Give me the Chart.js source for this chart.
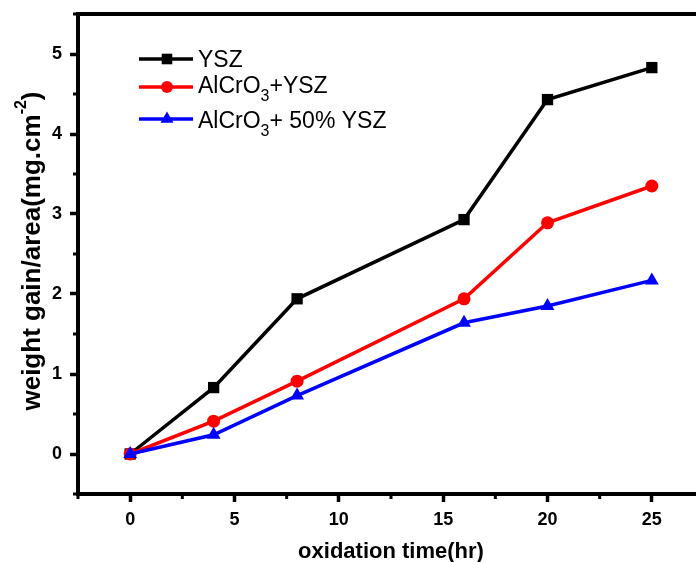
<!DOCTYPE html>
<html><head><meta charset="utf-8">
<script src="https://cdn.jsdelivr.net/npm/chart.js@4/dist/chart.umd.min.js"></script>
<style>html,body{margin:0;padding:0;background:#fff;overflow:hidden}#w{width:712px;height:562px}canvas{display:block}</style>
</head><body>
<div id="w"><canvas id="c" width="712" height="562" style="width:712px;height:562px"></canvas></div>
<script>
const times = [0, 4, 8, 16, 20, 25];
const ysz = [0, 0.83, 1.94, 2.93, 4.43, 4.83];
const alcro3Ysz = [0, 0.41, 0.91, 1.94, 2.89, 3.35];
const alcro3Ysz50 = [0, 0.24, 0.73, 1.64, 1.85, 2.17];
const xTicks = [0, 5, 10, 15, 20, 25];
const yTicks = [0, 1, 2, 3, 4, 5];
const xMinor = [-2.5, 2.5, 7.5, 12.5, 17.5, 22.5, 27.5];
const yMinor = [-0.5, 0.5, 1.5, 2.5, 3.5, 4.5, 5.5];
const legendItems = [
  {main: 'YSZ', sub: '', rest: ''},
  {main: 'AlCrO', sub: '3', rest: '+YSZ'},
  {main: 'AlCrO', sub: '3', rest: '+ 50% YSZ'}
];
const xTitle = 'oxidation time(hr)';
const yTitleMain = 'weight gain/area(mg.cm';
const yTitleSup = '-2';
const yTitleEnd = ')';

const colors = ['#000000', '#ff0000', '#0000ff'];
const styles = ['rect', 'circle', 'triangle'];
const radii = [8, 6.5, 8];
const series = [ysz, alcro3Ysz, alcro3Ysz50];
const FAM = '"Liberation Sans", Arial, sans-serif';

const datasets = series.map((s, i) => ({
  label: legendItems[i].main + legendItems[i].sub + legendItems[i].rest,
  data: times.map((t, k) => ({x: t, y: s[k]})),
  borderColor: colors[i], backgroundColor: colors[i],
  borderWidth: 3.5, pointStyle: styles[i], pointRadius: radii[i],
  pointBorderWidth: 0, tension: 0
})).reverse();

const extras = {
  id: 'extras',
  afterDraw(chart) {
    const ctx = chart.ctx, a = chart.chartArea;
    const xs = chart.scales.x, ys = chart.scales.y;
    ctx.save();
    ctx.strokeStyle = '#000';
    ctx.lineWidth = 4;
    ctx.beginPath();
    ctx.moveTo(a.left - 2, a.top); ctx.lineTo(a.right, a.top);
    ctx.moveTo(a.right, a.top); ctx.lineTo(a.right, a.bottom);
    ctx.stroke();
    ctx.lineWidth = 3;
    ctx.beginPath();
    xMinor.forEach(v => { const p = xs.getPixelForValue(v); ctx.moveTo(p, a.bottom); ctx.lineTo(p, a.bottom + 5); });
    yMinor.forEach(v => { const p = ys.getPixelForValue(v); ctx.moveTo(a.left, p); ctx.lineTo(a.left - 5, p); });
    ctx.stroke();
    // legend
    const lineY = [59, 87, 119];
    const baseY = [67, 93, 128];
    legendItems.forEach((it, i) => {
      const y = lineY[i], c = colors[i];
      ctx.strokeStyle = c; ctx.fillStyle = c; ctx.lineWidth = 3.5;
      ctx.beginPath(); ctx.moveTo(139, y); ctx.lineTo(193, y); ctx.stroke();
      Chart.helpers.drawPoint(ctx, {pointStyle: styles[i], radius: radii[i] - 0.5, borderWidth: 0}, 167, y);
      ctx.fillStyle = '#000';
      ctx.font = '23px ' + FAM;
      ctx.textBaseline = 'alphabetic'; ctx.textAlign = 'left';
      let x = 198; const b = baseY[i];
      ctx.fillText(it.main, x, b); x += ctx.measureText(it.main).width;
      if (it.sub) {
        ctx.font = '16px ' + FAM;
        ctx.fillText(it.sub, x, b + 8); x += ctx.measureText(it.sub).width;
        ctx.font = '23px ' + FAM;
        ctx.fillText(it.rest, x, b);
      }
    });
    // y title
    ctx.save();
    ctx.translate(33, 251);
    ctx.rotate(-Math.PI / 2);
    ctx.fillStyle = '#000';
    ctx.textBaseline = 'middle';
    const f1 = 'bold 26px ' + FAM;
    const f2 = 'bold 16px ' + FAM;
    ctx.font = f1; const w1 = ctx.measureText(yTitleMain).width; const w3 = ctx.measureText(yTitleEnd).width;
    ctx.font = f2; const w2 = ctx.measureText(yTitleSup).width;
    let x = -(w1 + w2 + w3) / 2;
    ctx.textAlign = 'left';
    ctx.font = f1; ctx.fillText(yTitleMain, x, 0); x += w1;
    ctx.font = f2; ctx.fillText(yTitleSup, x, -11); x += w2;
    ctx.font = f1; ctx.fillText(yTitleEnd, x, 0);
    ctx.restore();
    ctx.restore();
  }
};

new Chart(document.getElementById('c'), {
  type: 'line',
  data: {datasets},
  options: {
    responsive: false, animation: false,
    layout: {padding: {top: 14, right: 2, left: 0, bottom: 0}},
    plugins: {legend: {display: false}, tooltip: {enabled: false}},
    scales: {
      x: {
        type: 'linear', min: -2.5, max: 27.5,
        afterBuildTicks: s => { s.ticks = xTicks.map(v => ({value: v})); },
        afterFit: s => { s.height = 68; s.paddingLeft = 0; s.paddingRight = 0; },
        grid: {drawOnChartArea: false, drawTicks: true, tickLength: 8, tickWidth: 3.5, tickColor: '#000', color: '#000'},
        border: {display: true, width: 4, color: '#000'},
        ticks: {color: '#000', padding: 7, font: {family: FAM, size: 18, weight: 'bold'}, maxRotation: 0},
        title: {display: true, text: xTitle, color: '#000', padding: {top: 4, bottom: -3}, font: {family: FAM, size: 22, weight: 'bold'}}
      },
      y: {
        type: 'linear', min: -0.5, max: 5.5,
        afterBuildTicks: s => { s.ticks = yTicks.map(v => ({value: v})); },
        afterFit: s => { s.width = 78; s.paddingTop = 0; s.paddingBottom = 0; },
        grid: {drawOnChartArea: false, drawTicks: true, tickLength: 8, tickWidth: 3.5, tickColor: '#000', color: '#000'},
        border: {display: true, width: 4, color: '#000'},
        ticks: {color: '#000', padding: 8, font: {family: FAM, size: 18, weight: 'bold'}}
      }
    }
  },
  plugins: [extras]
});
</script>
</body></html>
